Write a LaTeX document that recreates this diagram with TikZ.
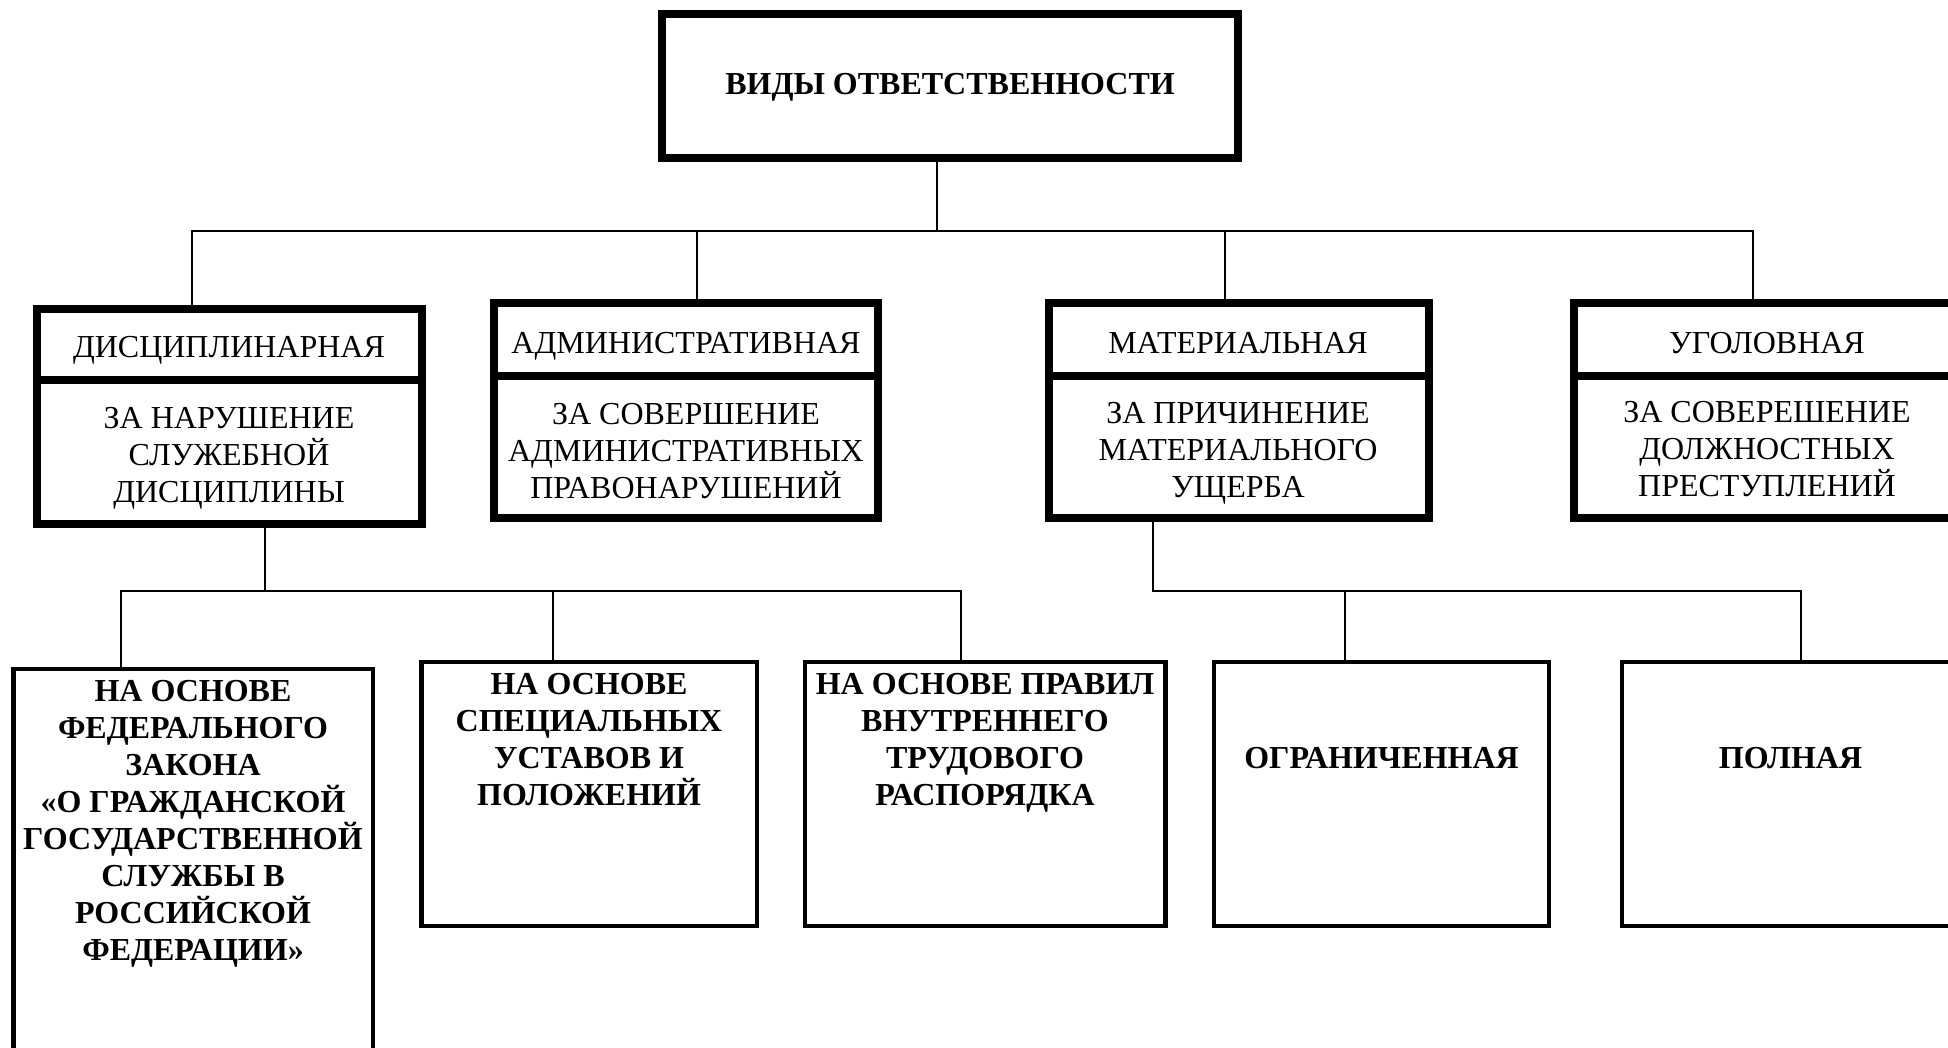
\documentclass[tikz,border=0pt]{standalone}
\usepackage{fontspec}
\setmainfont{Liberation Serif}
\begin{document}
\begin{tikzpicture}[x=1pt,y=-1pt,
  conn/.style={line width=2pt},
  bigbox/.style={draw,line width=8pt,inner sep=0pt,outer sep=0pt},
  smallbox/.style={draw,line width=4.5pt,inner sep=0pt,outer sep=0pt},
  regtext/.style={font=\fontsize{32}{37}\selectfont,inner sep=0pt,outer sep=0pt,align=center},
  boldtext/.style={font=\fontsize{32}{37}\selectfont\bfseries,inner sep=0pt,outer sep=0pt,align=center}]
\path[use as bounding box] (0,0) rectangle (1948,1048);
\clip (0,0) rectangle (1948,1048);
\fill[white] (0,0) rectangle (1948,1048);

% top box
\node[bigbox,minimum width=576pt,minimum height=144pt] (top) at (950,86) {};
\node[boldtext,anchor=base] (toptxt) at (950,95) {ВИДЫ ОТВЕТСТВЕННОСТИ};

% level-1 boxes (header + body)
\node[bigbox,minimum width=384.5pt,minimum height=71pt] (b1h) at (229.25,344.5) {};
\node[bigbox,minimum width=384.5pt,minimum height=144pt] (b1b) at (229.25,452) {};
\node[bigbox,minimum width=383.5pt,minimum height=73pt] (b2h) at (685.75,339.5) {};
\node[bigbox,minimum width=383.5pt,minimum height=142pt] (b2b) at (685.75,447) {};
\node[bigbox,minimum width=380pt,minimum height=73pt] (b3h) at (1239,339.5) {};
\node[bigbox,minimum width=380pt,minimum height=142pt] (b3b) at (1239,447) {};
\node[bigbox,minimum width=386pt,minimum height=73pt] (b4h) at (1767,339.5) {};
\node[bigbox,minimum width=386pt,minimum height=142pt] (b4b) at (1767,447) {};

\node[regtext,anchor=base] (t1h) at (229,358) {ДИСЦИПЛИНАРНАЯ};
\node[regtext,anchor=north] (t1b) at (229,398) {\rule{0pt}{30pt}ЗА НАРУШЕНИЕ\\СЛУЖЕБНОЙ\\ДИСЦИПЛИНЫ};
\node[regtext,anchor=base] (t2h) at (686,354) {АДМИНИСТРАТИВНАЯ};
\node[regtext,anchor=north] (t2b) at (686,394) {\rule{0pt}{30pt}ЗА СОВЕРШЕНИЕ\\АДМИНИСТРАТИВНЫХ\\ПРАВОНАРУШЕНИЙ};
\node[regtext,anchor=base] (t3h) at (1238,354) {МАТЕРИАЛЬНАЯ};
\node[regtext,anchor=north] (t3b) at (1238,393) {\rule{0pt}{30pt}ЗА ПРИЧИНЕНИЕ\\МАТЕРИАЛЬНОГО\\УЩЕРБА};
\node[regtext,anchor=base] (t4h) at (1767,353) {УГОЛОВНАЯ};
\node[regtext,anchor=north] (t4b) at (1767,392) {\rule{0pt}{30pt}ЗА СОВЕРЕШЕНИЕ\\ДОЛЖНОСТНЫХ\\ПРЕСТУПЛЕНИЙ};

% level-2 boxes
\node[smallbox,minimum width=359.5pt,minimum height=401pt] (c1) at (193.25,869.5) {};
\node[smallbox,minimum width=335.5pt,minimum height=264pt] (c2) at (589.25,794) {};
\node[smallbox,minimum width=360.5pt,minimum height=264pt] (c3) at (985.25,794) {};
\node[smallbox,minimum width=335pt,minimum height=264pt] (c4) at (1381.5,794) {};
\node[smallbox,minimum width=339pt,minimum height=264pt] (c5) at (1791.5,794) {};

\node[boldtext,anchor=north] (s1) at (193,671) {\rule{0pt}{30pt}НА ОСНОВЕ\\ФЕДЕРАЛЬНОГО\\ЗАКОНА\\«О ГРАЖДАНСКОЙ\\ГОСУДАРСТВЕННОЙ\\СЛУЖБЫ В\\РОССИЙСКОЙ\\ФЕДЕРАЦИИ»};
\node[boldtext,anchor=north] (s2) at (589,664) {\rule{0pt}{30pt}НА ОСНОВЕ\\СПЕЦИАЛЬНЫХ\\УСТАВОВ И\\ПОЛОЖЕНИЙ};
\node[boldtext,anchor=north] (s3) at (985,664) {\rule{0pt}{30pt}НА ОСНОВЕ ПРАВИЛ\\ВНУТРЕННЕГО\\ТРУДОВОГО\\РАСПОРЯДКА};
\node[boldtext,anchor=base] (s4) at (1381.5,768) {ОГРАНИЧЕННАЯ};
\node[boldtext,anchor=base] (s5) at (1790.5,768) {ПОЛНАЯ};

% connector points
\coordinate (j0) at (937,231);
\coordinate (d1) at (192,231);
\coordinate (d2) at (697,231);
\coordinate (d3) at (1225,231);
\coordinate (d4) at (1753,231);
\coordinate (e0) at (265,591);
\coordinate (f1) at (121,591);
\coordinate (f2) at (553,591);
\coordinate (f3) at (961,591);
\coordinate (e1) at (1153,591);
\coordinate (g1) at (1345,591);
\coordinate (g2) at (1801,591);

\draw[conn] (top.south -| j0) -- (j0);
\draw[conn] (d1 |- b1h.north) -- (d1) -- (d4) -- (d4 |- b4h.north);
\draw[conn] (d2) -- (d2 |- b2h.north);
\draw[conn] (d3) -- (d3 |- b3h.north);

\draw[conn] (b1b.south -| e0) -- (e0);
\draw[conn] (f1 |- c1.north) -- (f1) -- (f3) -- (f3 |- c3.north);
\draw[conn] (f2) -- (f2 |- c2.north);

\draw[conn] (b3b.south -| e1) -- (e1) -- (g2) -- (g2 |- c5.north);
\draw[conn] (g1) -- (g1 |- c4.north);
\end{tikzpicture}
\end{document}
